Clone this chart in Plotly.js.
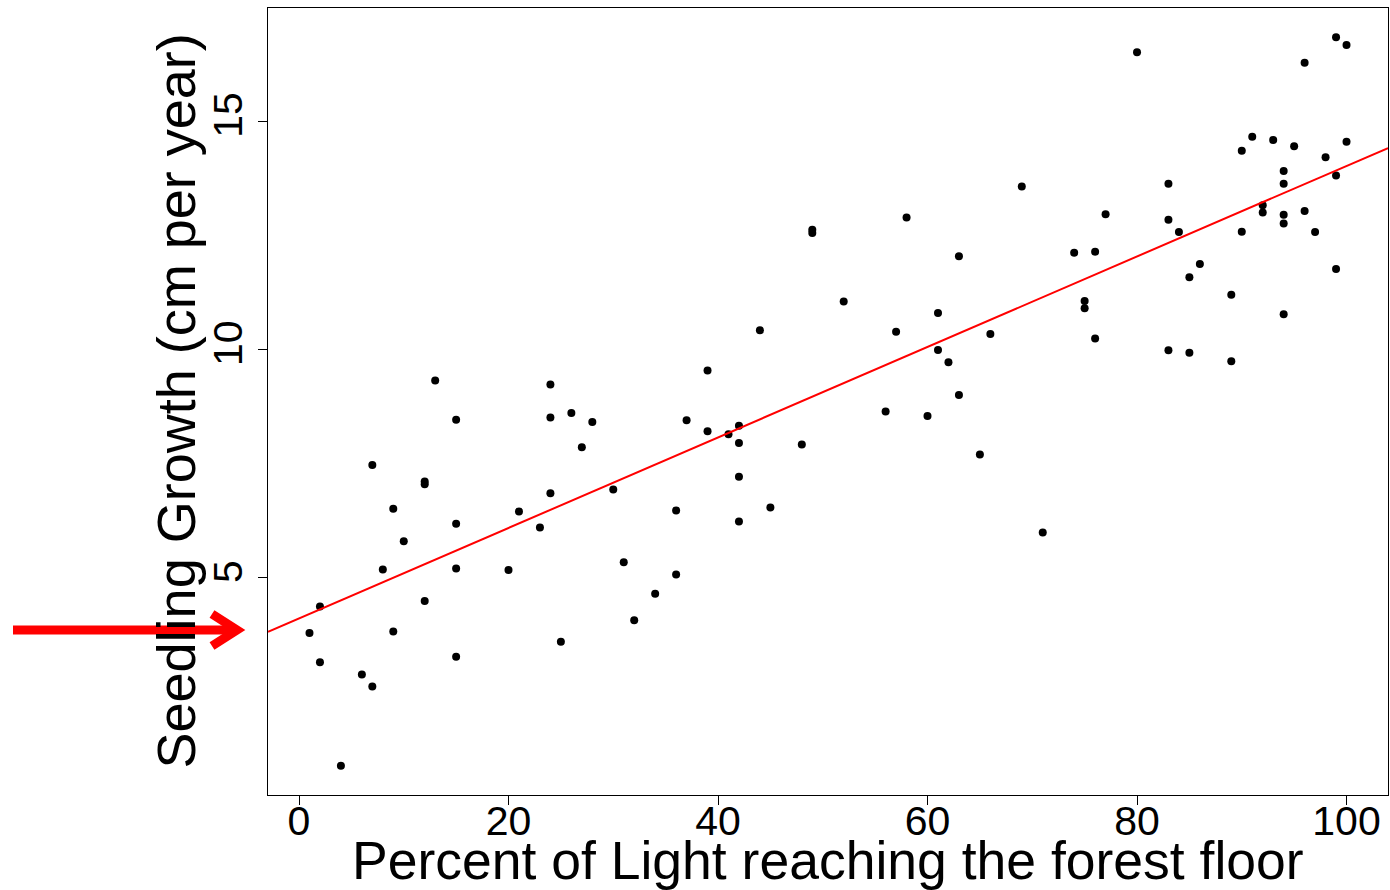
<!DOCTYPE html>
<html>
<head>
<meta charset="utf-8">
<script src="https://cdn.plot.ly/plotly-3.0.1.min.js"></script>
<style>
  html, body { margin: 0; padding: 0; background: #ffffff; }
  #chart { width: 1390px; height: 890px; }
</style>
</head>
<body>
<div id="chart"></div>
<script>
// Percent of light reaching the forest floor for each seedling plot
const lightPercent = [
  1, 2, 2, 4, 6, 7, 7, 8, 9, 9,
  10, 12, 12, 12, 13, 15, 15, 15, 15, 20,
  21, 23, 24, 24, 24, 25, 26, 27, 28, 30,
  31, 32, 34, 36, 36, 37, 39, 39, 41, 42,
  42, 42, 42, 44, 45, 48, 49, 49, 52, 56,
  57, 58, 60, 61, 61, 62, 63, 63, 65, 66,
  69, 71, 74, 75, 75, 76, 76, 77, 80, 83,
  83, 83, 84, 85, 85, 86, 89, 89, 90, 90,
  91, 92, 92, 93, 94, 94, 94, 94, 94, 95,
  96, 96, 97, 98, 99, 99, 99, 100, 100
];

// Seedling growth (cm per year) measured at each plot
const seedlingGrowth = [
  3.79, 4.37, 3.15, 0.88, 2.88, 2.62, 7.47, 5.18, 6.51, 3.82,
  5.80, 7.11, 7.05, 4.49, 9.32, 8.46, 6.18, 5.20, 3.27, 5.17,
  6.45, 6.10, 9.23, 8.51, 6.85, 3.60, 8.61, 7.86, 8.41, 6.93,
  5.34, 4.07, 4.65, 5.07, 6.47, 8.45, 8.21, 9.54, 8.14, 8.33,
  7.95, 7.21, 6.23, 10.42, 6.54, 7.92, 12.62, 12.55, 11.05, 8.64,
  10.39, 12.89, 8.54, 10.80, 9.99, 9.72, 12.04, 9.00, 7.70, 10.34,
  13.57, 5.99, 12.12, 11.06, 10.90, 12.14, 10.24, 12.96, 16.51, 13.63,
  12.84, 9.98, 12.57, 11.58, 9.93, 11.87, 11.20, 9.74, 14.35, 12.58,
  14.66, 13.16, 13.00, 14.59, 13.91, 13.63, 12.95, 12.76, 10.77, 14.45,
  16.28, 13.03, 12.57, 14.21, 16.84, 13.81, 11.76, 16.67, 14.55
];

// Tick values for both axes
const xTicks = [0, 20, 40, 60, 80, 100];
const yTicks = [5, 10, 15];

const xTitle = 'Percent of Light reaching the forest floor';
const yTitle = 'Seedling Growth (cm per year)';

// Axis ranges padded by 4% on each side
function paddedRange(v) {
  const lo = Math.min(...v), hi = Math.max(...v), pad = 0.04 * (hi - lo);
  return [lo - pad, hi + pad];
}
const xRange = paddedRange(lightPercent);
const yRange = paddedRange(seedlingGrowth);

// Least-squares fit of growth on light
function linearFit(x, y) {
  const n = x.length;
  const mx = x.reduce((a, b) => a + b, 0) / n;
  const my = y.reduce((a, b) => a + b, 0) / n;
  let sxy = 0, sxx = 0;
  for (let i = 0; i < n; i++) {
    sxy += (x[i] - mx) * (y[i] - my);
    sxx += (x[i] - mx) * (x[i] - mx);
  }
  const slope = sxy / sxx;
  return { slope: slope, intercept: my - slope * mx };
}
const fit = linearFit(lightPercent, seedlingGrowth);
const fitX = [xRange[0], xRange[1]];
const fitY = fitX.map(x => fit.intercept + fit.slope * x);

// Plot-area geometry in pixels, used to place the pointer arrow
const M = { l: 268, r: 2, t: 8, b: 95 };
const W = 1390, H = 890;
const PW = W - M.l - M.r, PH = H - M.t - M.b;
const px = x => (x - M.l) / PW;
const py = y => (H - M.b - y) / PH;

const FONT = 'Liberation Sans, Arial, Helvetica, sans-serif';

const traces = [
  {
    x: lightPercent,
    y: seedlingGrowth,
    type: 'scatter',
    mode: 'markers',
    marker: { color: '#000000', size: 8 },
    hoverinfo: 'x+y',
    showlegend: false
  },
  {
    x: fitX,
    y: fitY,
    type: 'scatter',
    mode: 'lines',
    line: { color: '#ff0000', width: 2 },
    hoverinfo: 'skip',
    showlegend: false
  }
];

const axisCommon = {
  showgrid: false,
  zeroline: false,
  showline: true,
  linecolor: '#000000',
  linewidth: 1,
  mirror: true,
  ticks: 'outside',
  ticklen: 9,
  tickwidth: 1,
  tickcolor: '#000000',
  tickfont: { family: FONT, size: 41, color: '#000000' },
  tickmode: 'array',
  automargin: false
};

const layout = {
  width: W,
  height: H,
  margin: M,
  paper_bgcolor: '#ffffff',
  plot_bgcolor: '#ffffff',
  font: { family: FONT, color: '#000000' },
  xaxis: Object.assign({}, axisCommon, {
    range: xRange,
    tickvals: xTicks,
    ticktext: xTicks.map(String),
    ticklabelstandoff: -19
  }),
  yaxis: Object.assign({}, axisCommon, {
    range: yRange,
    tickvals: yTicks,
    ticktext: yTicks.map(String),
    tickangle: -90
  }),
  annotations: [
    {
      text: xTitle,
      xref: 'paper', yref: 'paper',
      x: 0.5, y: py(860),
      xanchor: 'center', yanchor: 'middle',
      showarrow: false,
      font: { family: FONT, size: 53.5, color: '#000000' }
    },
    {
      text: yTitle,
      xref: 'paper', yref: 'paper',
      x: px(175), y: 0.5,
      xanchor: 'center', yanchor: 'middle',
      textangle: -90,
      showarrow: false,
      font: { family: FONT, size: 54, color: '#000000' }
    }
  ],
  shapes: [
    {
      type: 'line',
      xref: 'paper', yref: 'paper',
      x0: px(13), y0: py(630), x1: px(234), y1: py(630),
      line: { color: '#ff0000', width: 9 },
      layer: 'above'
    },
    {
      type: 'path',
      xref: 'paper', yref: 'paper',
      path: 'M ' + px(212) + ',' + py(614) + ' L ' + px(237) + ',' + py(630) +
            ' L ' + px(212) + ',' + py(646),
      line: { color: '#ff0000', width: 9 },
      layer: 'above'
    }
  ]
};

Plotly.newPlot('chart', traces, layout, { staticPlot: true, displayModeBar: false });
</script>
</body>
</html>
